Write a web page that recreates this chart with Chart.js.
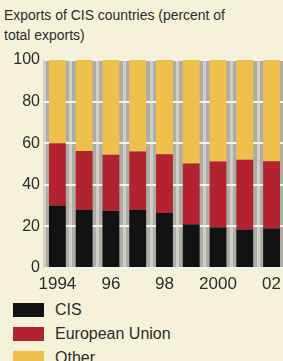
<!DOCTYPE html>
<html>
<head>
<meta charset="utf-8">
<script src="https://cdn.jsdelivr.net/npm/chart.js@4"></script>
<style>
  html, body { margin:0; padding:0; width:283px; height:361px; overflow:hidden; background:#f6f2da; }
  body { position:relative; font-family:"Liberation Sans",Arial,sans-serif; color:#2b2b2b; }
  #title { position:absolute; left:4px; top:5px; font-size:15.5px; line-height:20px; white-space:nowrap; transform:scaleX(0.9); transform-origin:0 0; }
  #c { position:absolute; left:0; top:0; }
  #legend { position:absolute; left:13px; top:303px; font-size:16px; }
  .row { position:relative; height:24px; }
  .sw { position:absolute; left:0; top:0; width:31px; height:14px; }
  .lab { position:absolute; left:42px; top:-2px; line-height:18px; white-space:nowrap; }
</style>
</head>
<body>
<div id="title">Exports of CIS countries (percent of<br>total exports)</div>
<canvas id="c" width="287" height="295"></canvas>
<div id="legend"></div>
<script>
const categories = ['1994','1995','1996','1997','1998','1999','2000','2001','2002'];
const tickLabels = ['1994','','96','','98','','2000','','02'];
const seriesNames = ['CIS','European Union','Other'];
const cisValues = [30, 28, 27.5, 28, 26.5, 21, 19.5, 18.5, 19];
const euValues = [30, 28.3, 27, 28, 28.2, 29.2, 31.7, 33.6, 32.3];
const otherValues = [40, 43.7, 45.5, 44, 45.3, 49.8, 48.8, 47.9, 48.7];
const yTicks = [0, 20, 40, 60, 80, 100];
const colors = ['#121212', '#b2232f', '#efc14c'];

const bgPlugin = {
  id: 'plotBg',
  beforeDraw(chart) {
    const a = chart.chartArea, ctx = chart.ctx;
    ctx.save();
    ctx.fillStyle = '#adada6';
    ctx.fillRect(a.left, a.top, a.right - a.left, a.bottom - a.top);
    ctx.restore();
  }
};

const data = {
  labels: categories,
  datasets: [cisValues, euValues, otherValues].map((v, i) => ({
    label: seriesNames[i],
    data: v,
    backgroundColor: colors[i],
    borderWidth: 0,
    barPercentage: 0.63,
    categoryPercentage: 1.0
  }))
};

new Chart(document.getElementById('c'), {
  type: 'bar',
  data,
  plugins: [bgPlugin],
  options: {
    responsive: false,
    animation: false,
    devicePixelRatio: 1,
    layout: { padding: { top: 60, right: 0, bottom: 0, left: 0 } },
    plugins: { legend: { display: false }, tooltip: { enabled: false }, title: { display: false } },
    scales: {
      x: {
        stacked: true,
        offset: true,
        grid: { display: true, offset: true, color: '#cfcfc7', lineWidth: 3, drawTicks: false },
        border: { display: false },
        ticks: {
          autoSkip: false, maxRotation: 0, padding: 6,
          color: '#2b2b2b',
          font: { family: '"Liberation Sans",Arial,sans-serif', size: 17 },
          callback: (v, i) => tickLabels[i]
        },
        afterFit(s) { s.height = 27; }
      },
      y: {
        stacked: true,
        min: 0, max: 100,
        afterBuildTicks(s) { s.ticks = yTicks.map(v => ({ value: v })); },
        grid: { color: '#f4f4ee', lineWidth: 2, drawTicks: false },
        border: { display: false },
        ticks: {
          padding: 4,
          color: '#2b2b2b',
          font: { family: '"Liberation Sans",Arial,sans-serif', size: 16 }
        },
        afterFit(s) { s.width = 44; }
      }
    }
  }
});

const leg = document.getElementById('legend');
seriesNames.forEach((n, i) => {
  const r = document.createElement('div'); r.className = 'row';
  const s = document.createElement('div'); s.className = 'sw'; s.style.background = colors[i];
  const l = document.createElement('div'); l.className = 'lab'; l.textContent = n;
  r.appendChild(s); r.appendChild(l); leg.appendChild(r);
});
</script>
</body>
</html>
